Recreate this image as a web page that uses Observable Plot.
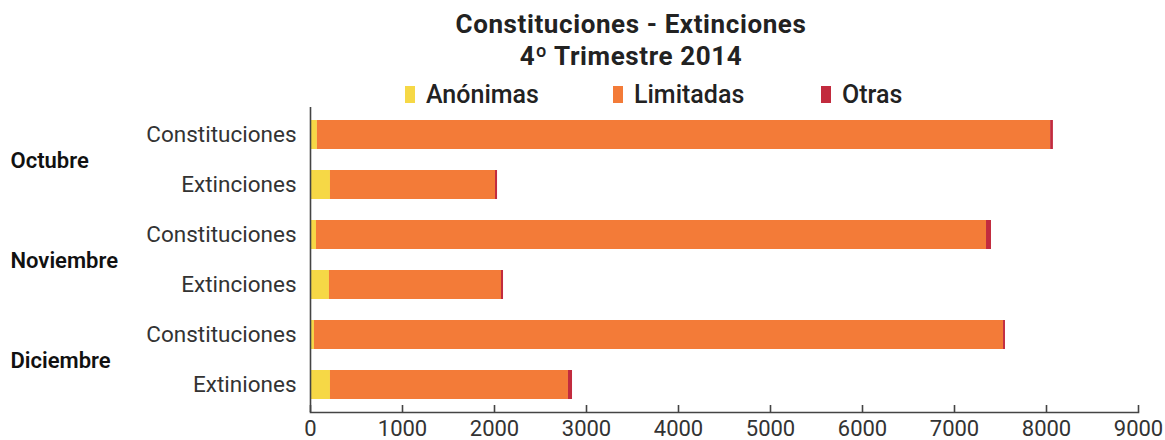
<!DOCTYPE html>
<html><head><meta charset="utf-8">
<script src="https://cdn.jsdelivr.net/npm/d3@7"></script>
<script src="https://cdn.jsdelivr.net/npm/@observablehq/plot@0.6"></script>
<style>
body{margin:0;background:#fff;font-family:Roboto,sans-serif;color:#222}
#wrap{position:relative;width:1165px;height:440px;overflow:hidden}
#head{position:relative;height:100px}
#chart svg{display:block}
.title{position:absolute;left:331px;width:600px;top:8px;text-align:center;font-weight:700;font-size:26px;letter-spacing:0.6px;line-height:32px;color:#222}
.legend{position:absolute;left:405px;top:82px;display:flex}
.item{position:relative;width:208px;height:25px;font-size:25px;line-height:25px;font-weight:500;color:#222}
.sw{position:absolute;left:0;top:4px;width:10px;height:17px}
.lab{position:absolute;left:21px;top:0;white-space:nowrap}
</style></head>
<body><div id="wrap">
<div id="head">
<div class="title">Constituciones - Extinciones<br>4º Trimestre 2014</div>
<div class="legend" id="legend"></div>
</div>
<div id="chart"></div>
</div>
<script>
const months = ["Octubre", "Noviembre", "Diciembre"];
const rowLabels = ["Constituciones", "Extinciones", "Constituciones", "Extinciones", "Constituciones", "Extiniones"];
const categories = ["Anónimas", "Limitadas", "Otras"];
const anonimas = [75, 217, 65, 206, 43, 217];
const limitadas = [7970, 1794, 7283, 1870, 7490, 2587];
const otras = [30, 22, 54, 22, 21, 44];
const colors = ["#F6D846", "#F37B38", "#C22B3E"];
const xTicks = [0, 1000, 2000, 3000, 4000, 5000, 6000, 7000, 8000, 9000];

const keys = rowLabels.map((r, i) => months[Math.floor(i / 2)] + "|" + r);
const series = [anonimas, limitadas, otras];
const data = [];
keys.forEach((k, i) => categories.forEach((c, j) => data.push({key: k, cat: c, value: series[j][i]})));

const leg = document.getElementById("legend");
categories.forEach((c, j) => {
  const it = document.createElement("div"); it.className = "item";
  it.innerHTML = `<span class="sw" style="background:${colors[j]}"></span><span class="lab">${c}</span>`;
  leg.appendChild(it);
});

const chart = Plot.plot({
  width: 1165, height: 340,
  marginTop: 7, marginBottom: 28, marginLeft: 310, marginRight: 27,
  style: {fontFamily: "Roboto, sans-serif", fontSize: "21px", color: "#333", background: "#fff"},
  x: {domain: [0, 9000], label: null},
  y: {domain: keys, paddingInner: 0.43, paddingOuter: 0.215, label: null},
  color: {domain: categories, range: colors},
  marks: [
    Plot.barX(data, {x: "value", y: "key", fill: "cat"}),
    Plot.ruleX([0], {stroke: "#444", strokeWidth: 1.6}),
    Plot.frame({anchor: "bottom", stroke: "#444", strokeWidth: 1.6}),
    Plot.ruleX(xTicks, {x: d => d, insetTop: 298, stroke: "#444", strokeWidth: 1.6}),
    Plot.axisX(xTicks, {tickSize: 0, tickPadding: 8, tickFormat: d => String(d), fontSize: 22, fill: "#333", label: null}),
    Plot.axisY({tickSize: 0, tickPadding: 14, tickFormat: k => k.split("|")[1], fontSize: 22.5, fill: "#333", label: null}),
    Plot.text(months, {y: m => m + "|Constituciones", text: d => d, frameAnchor: "left", dx: -300, dy: 26, textAnchor: "start", fontSize: 22, fontWeight: 600, fill: "#111"})
  ]
});
document.getElementById("chart").appendChild(chart);
</script>
</body></html>
